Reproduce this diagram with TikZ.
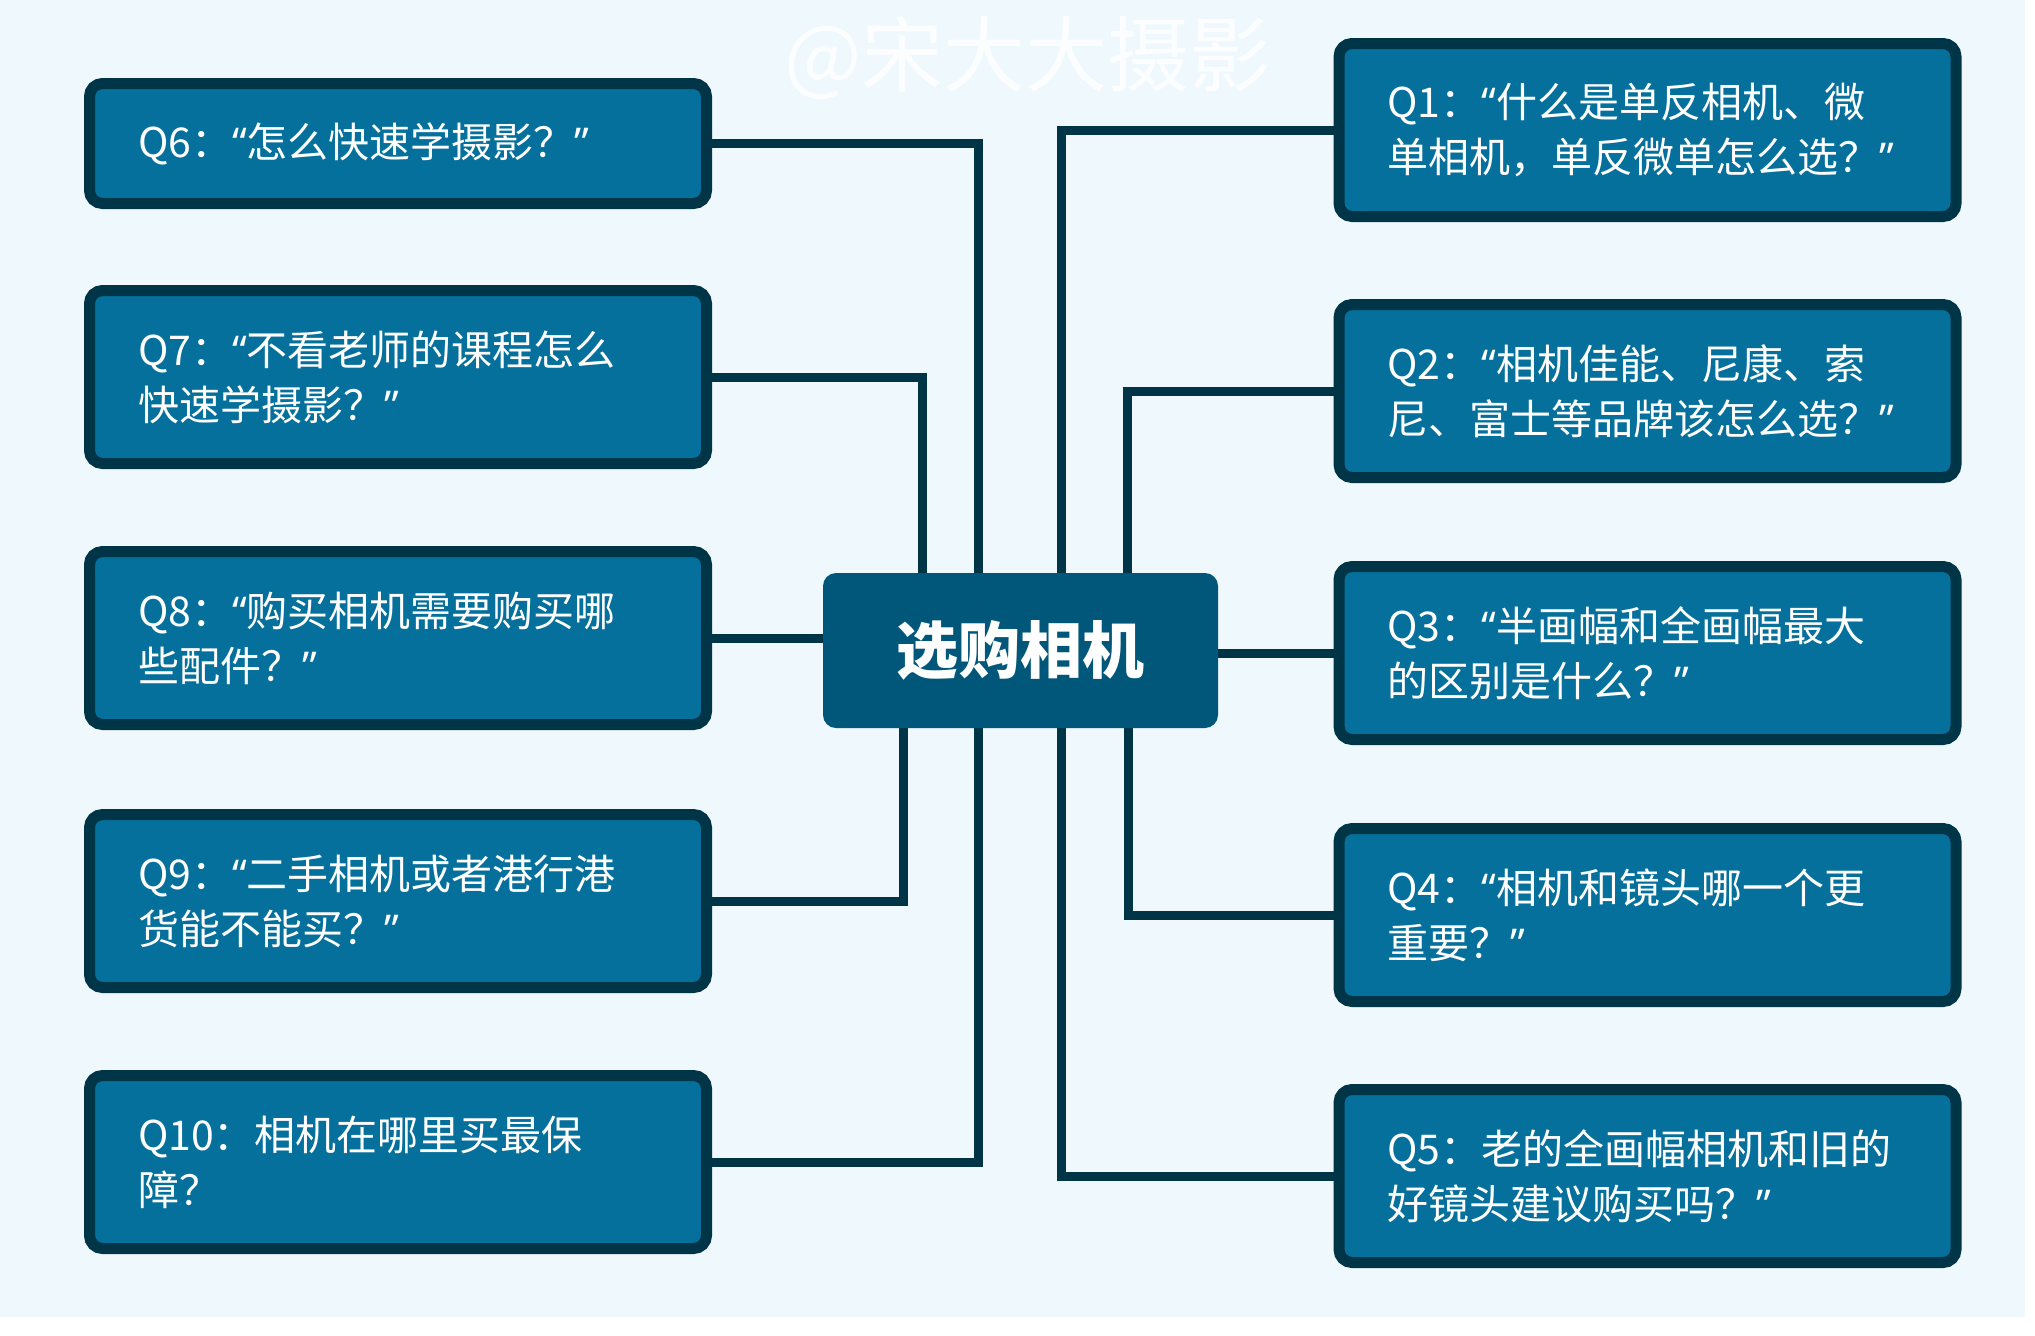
\documentclass[tikz,border=0pt]{standalone}
\usepackage{fontspec}
\setmainfont{Noto Sans CJK SC}
\newfontfamily\qfont{Noto Sans}
\newcommand{\qopen}{{\qfont “}}
\newcommand{\qclose}{{\qfont ”}}
\usetikzlibrary{calc,backgrounds}
\definecolor{bgc}{HTML}{EEF8FD}
\definecolor{boxc}{HTML}{04709B}
\definecolor{bordc}{HTML}{003548}
\definecolor{cenc}{HTML}{01577A}
\definecolor{linec}{HTML}{003548}
\begin{document}
\begin{tikzpicture}[x=1pt,y=-1pt,
  qbox/.style={draw=bordc, fill=boxc, line width=11pt, rounded corners=13pt,
    text width=520pt, inner xsep=48.5pt, inner ysep=0pt, align=left,
    text=white, font=\fontsize{41}{55}\selectfont},
  conn/.style={draw=linec, line width=9pt}]
\useasboundingbox (0,0) rectangle (2035,1336);
% boxes
\node[qbox, minimum height=120pt] (q6) at (398,143.5) {Q6：\qopen 怎么快速学摄影？\qclose};
\node[qbox, minimum height=173pt] (q7) at (398,377) {Q7：\qopen 不看老师的课程怎么\\快速学摄影？\qclose};
\node[qbox, minimum height=173pt] (q8) at (398,638) {Q8：\qopen 购买相机需要购买哪\\些配件？\qclose};
\node[qbox, minimum height=173pt] (q9) at (398,901) {Q9：\qopen 二手相机或者港行港\\货能不能买？\qclose};
\node[qbox, minimum height=173pt] (q10) at (398,1162) {Q10：相机在哪里买最保\\障？};
\node[qbox, minimum height=173pt] (q1) at (1647.5,130) {Q1：\qopen 什么是单反相机、微\\单相机，单反微单怎么选？\qclose};
\node[qbox, minimum height=173pt] (q2) at (1647.5,391) {Q2：\qopen 相机佳能、尼康、索\\尼、富士等品牌该怎么选？\qclose};
\node[qbox, minimum height=173pt] (q3) at (1647.5,653) {Q3：\qopen 半画幅和全画幅最大\\的区别是什么？\qclose};
\node[qbox, minimum height=173pt] (q4) at (1647.5,915) {Q4：\qopen 相机和镜头哪一个更\\重要？\qclose};
\node[qbox, minimum height=173pt] (q5) at (1647.5,1176) {Q5：老的全画幅相机和旧的\\好镜头建议购买吗？\qclose};
% center
\node[fill=cenc, rounded corners=13pt, minimum width=395pt, minimum height=155pt,
  inner sep=0pt, text=white, font=\fontsize{62}{62}\selectfont\bfseries] (cen) at (1020.5,650.5) {选购相机};
% watermark
\node[text=white, opacity=0.85, font=\fontsize{82}{82}\selectfont] (wm) at (1028,58) {@宋大大摄影};
% connector x positions
\coordinate (c6) at (978,0);
\coordinate (c7) at (922,0);
\coordinate (c9) at (903,0);
\coordinate (c10) at (978,0);
\coordinate (c1) at (1061,0);
\coordinate (c2) at (1127,0);
\coordinate (c4) at (1128,0);
\coordinate (c5) at (1061,0);
\begin{pgfonlayer}{background}
\fill[white] (0,0) rectangle (2035,1336);
\fill[bgc] (0,0) rectangle (2025,1317);
\draw[conn] (q6.east) -| (c6 |- cen.north);
\draw[conn] (q7.east) -| (c7 |- cen.north);
\draw[conn] (q8.east) -- (cen.west |- q8.east);
\draw[conn] (q9.east) -| (c9 |- cen.south);
\draw[conn] (q10.east) -| (c10 |- cen.south);
\draw[conn] (q1.west) -| (c1 |- cen.north);
\draw[conn] (q2.west) -| (c2 |- cen.north);
\draw[conn] (q3.west) -- (cen.east |- q3.west);
\draw[conn] (q4.west) -| (c4 |- cen.south);
\draw[conn] (q5.west) -| (c5 |- cen.south);
\end{pgfonlayer}
\end{tikzpicture}
\end{document}
